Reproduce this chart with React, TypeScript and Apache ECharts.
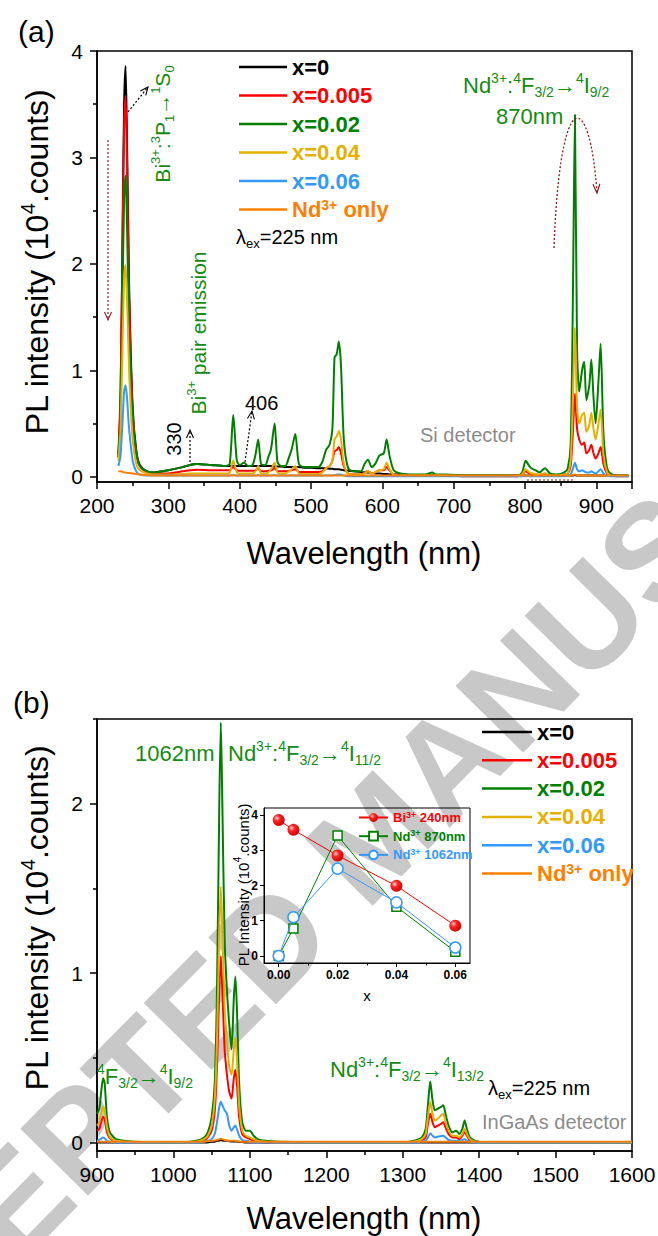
import React, { useEffect, useRef } from 'react';
import * as echarts from 'echarts';

const FONT = '"Liberation Sans", Arial, Helvetica, sans-serif';

const C_BLACK = '#000000';
const C_RED = '#ff0000';
const C_GREEN = '#008000';
const C_GOLD = '#e6b000';
const C_BLUE = '#3399ff';
const C_ORANGE = '#ff8000';
const C_TGREEN = '#148c14';
const C_BROWN = '#8b1c1c';
const C_GRAY = '#8c8c8c';
const C_WATER = '#c8c8c8';

const SERIES_NAMES = ['x=0', 'x=0.005', 'x=0.02', 'x=0.04', 'x=0.06', 'Nd3+ only'];
const SERIES_COLORS = [C_BLACK, C_RED, C_GREEN, C_GOLD, C_BLUE, C_ORANGE];

// ---------- Panel (a): Si detector, 230-945 nm ----------
const WL_A = [
  230, 233, 236, 238, 240, 242, 245, 250, 255, 260,
  270, 280, 300, 320, 330, 340, 360, 380, 386, 391,
  396, 400, 406, 412, 418, 422, 426, 430, 436, 440,
  444, 449, 453, 458, 464, 469, 473, 478, 483, 490,
  500, 510, 516, 521, 526, 530, 533, 536, 539, 542,
  546, 552, 560, 570, 575, 580, 585, 590, 596, 602,
  606, 610, 616, 625, 640, 660, 670, 675, 690, 720,
  760, 790, 796, 801, 806, 811, 815, 820, 828, 835,
  845, 855, 860, 864, 867, 870, 873, 876, 880, 883,
  886, 890, 893, 896, 899, 903, 906, 910, 915, 920,
  930, 945,
];
const A_X0 = [
  0.18, 0.70, 2.40, 3.50, 3.86, 3.20, 1.80, 0.65, 0.25, 0.11,
  0.05, 0.04, 0.06, 0.09, 0.11, 0.12, 0.11, 0.10, 0.10, 0.10,
  0.10, 0.10, 0.10, 0.10, 0.10, 0.10, 0.10, 0.10, 0.10, 0.10,
  0.10, 0.095, 0.095, 0.095, 0.09, 0.09, 0.09, 0.09, 0.09, 0.085,
  0.085, 0.08, 0.08, 0.08, 0.075, 0.075, 0.07, 0.07, 0.07, 0.065,
  0.06, 0.055, 0.05, 0.045, 0.04, 0.04, 0.035, 0.03, 0.03, 0.025,
  0.025, 0.02, 0.02, 0.02, 0.015, 0.015, 0.015, 0.015, 0.01, 0.01,
  0.01, 0.01, 0.01, 0.01, 0.01, 0.01, 0.01, 0.01, 0.01, 0.01,
  0.01, 0.01, 0.01, 0.01, 0.01, 0.015, 0.01, 0.01, 0.01, 0.01,
  0.01, 0.01, 0.01, 0.01, 0.01, 0.01, 0.01, 0.01, 0.01, 0.01,
  0.01, 0.01,
];
const A_X005 = [
  0.22, 0.80, 2.30, 3.30, 3.58, 3.00, 1.70, 0.60, 0.22, 0.10,
  0.04, 0.03, 0.03, 0.05, 0.06, 0.065, 0.06, 0.06, 0.06, 0.09,
  0.06, 0.055, 0.055, 0.055, 0.055, 0.06, 0.08, 0.05, 0.05, 0.055,
  0.06, 0.08, 0.05, 0.05, 0.05, 0.055, 0.06, 0.07, 0.045, 0.045,
  0.045, 0.045, 0.05, 0.08, 0.10, 0.15, 0.24, 0.25, 0.28, 0.22,
  0.10, 0.03, 0.02, 0.02, 0.04, 0.05, 0.03, 0.04, 0.06, 0.06,
  0.09, 0.06, 0.02, 0.01, 0.01, 0.01, 0.01, 0.01, 0.01, 0.005,
  0.005, 0.005, 0.02, 0.05, 0.03, 0.025, 0.02, 0.015, 0.03, 0.01,
  0.01, 0.02, 0.03, 0.10, 0.40, 0.78, 0.45, 0.35, 0.30, 0.32,
  0.22, 0.25, 0.30, 0.22, 0.17, 0.22, 0.28, 0.12, 0.03, 0.01,
  0.005, 0.005,
];
const A_X02 = [
  0.20, 0.60, 1.80, 2.60, 2.83, 2.40, 1.40, 0.55, 0.22, 0.10,
  0.05, 0.04, 0.06, 0.09, 0.11, 0.12, 0.11, 0.10, 0.12, 0.58,
  0.15, 0.11, 0.13, 0.10, 0.11, 0.20, 0.35, 0.12, 0.11, 0.18,
  0.26, 0.50, 0.14, 0.10, 0.10, 0.18, 0.26, 0.40, 0.12, 0.09,
  0.09, 0.09, 0.14, 0.25, 0.30, 0.45, 1.12, 1.15, 1.27, 1.05,
  0.35, 0.08, 0.05, 0.05, 0.12, 0.16, 0.09, 0.12, 0.20, 0.22,
  0.35, 0.20, 0.06, 0.03, 0.02, 0.02, 0.04, 0.02, 0.02, 0.01,
  0.01, 0.01, 0.04, 0.15, 0.10, 0.07, 0.06, 0.04, 0.08, 0.03,
  0.02, 0.04, 0.08, 0.30, 1.60, 3.40, 1.20, 0.80, 1.00, 1.08,
  0.72, 0.85, 1.10, 0.75, 0.50, 0.90, 1.25, 0.40, 0.08, 0.03,
  0.01, 0.01,
];
const A_X04 = [
  0.15, 0.45, 1.30, 1.85, 1.99, 1.70, 1.00, 0.35, 0.12, 0.06,
  0.03, 0.02, 0.02, 0.025, 0.03, 0.03, 0.03, 0.03, 0.04, 0.15,
  0.04, 0.03, 0.03, 0.03, 0.03, 0.05, 0.10, 0.03, 0.03, 0.04,
  0.07, 0.13, 0.04, 0.03, 0.03, 0.05, 0.07, 0.10, 0.03, 0.025,
  0.025, 0.025, 0.04, 0.08, 0.10, 0.15, 0.35, 0.38, 0.43, 0.35,
  0.12, 0.03, 0.02, 0.02, 0.03, 0.05, 0.03, 0.04, 0.06, 0.07,
  0.13, 0.07, 0.02, 0.01, 0.01, 0.01, 0.01, 0.01, 0.01, 0.005,
  0.005, 0.005, 0.02, 0.07, 0.04, 0.03, 0.025, 0.02, 0.03, 0.01,
  0.01, 0.02, 0.03, 0.15, 0.70, 1.40, 0.65, 0.50, 0.58, 0.60,
  0.42, 0.48, 0.60, 0.45, 0.35, 0.50, 0.63, 0.20, 0.04, 0.01,
  0.005, 0.005,
];
const A_X06 = [
  0.10, 0.20, 0.55, 0.80, 0.86, 0.75, 0.45, 0.15, 0.05, 0.02,
  0.01, 0.01, 0.01, 0.01, 0.01, 0.01, 0.01, 0.01, 0.01, 0.015,
  0.01, 0.01, 0.01, 0.01, 0.01, 0.01, 0.015, 0.01, 0.01, 0.01,
  0.01, 0.015, 0.01, 0.01, 0.01, 0.01, 0.01, 0.01, 0.01, 0.01,
  0.01, 0.01, 0.01, 0.01, 0.01, 0.01, 0.015, 0.02, 0.02, 0.02,
  0.01, 0.005, 0.005, 0.005, 0.005, 0.005, 0.005, 0.005, 0.005, 0.005,
  0.005, 0.005, 0.005, 0.005, 0.005, 0.005, 0.005, 0.005, 0.005, 0.005,
  0.005, 0.005, 0.005, 0.01, 0.005, 0.005, 0.005, 0.005, 0.005, 0.005,
  0.005, 0.005, 0.01, 0.02, 0.07, 0.13, 0.07, 0.05, 0.06, 0.05,
  0.04, 0.04, 0.05, 0.04, 0.03, 0.05, 0.07, 0.03, 0.01, 0.005,
  0.005, 0.005,
];
const A_ND = [
  0.05, 0.05, 0.045, 0.04, 0.04, 0.035, 0.035, 0.03, 0.025, 0.02,
  0.015, 0.01, 0.01, 0.01, 0.01, 0.01, 0.01, 0.01, 0.01, 0.01,
  0.01, 0.01, 0.01, 0.01, 0.01, 0.01, 0.01, 0.01, 0.01, 0.01,
  0.01, 0.01, 0.01, 0.01, 0.01, 0.01, 0.01, 0.01, 0.01, 0.01,
  0.01, 0.01, 0.01, 0.01, 0.01, 0.01, 0.01, 0.01, 0.01, 0.01,
  0.01, 0.01, 0.01, 0.01, 0.01, 0.01, 0.01, 0.01, 0.01, 0.01,
  0.01, 0.01, 0.01, 0.01, 0.01, 0.01, 0.01, 0.01, 0.01, 0.01,
  0.01, 0.01, 0.01, 0.01, 0.01, 0.01, 0.01, 0.01, 0.01, 0.01,
  0.01, 0.01, 0.01, 0.01, 0.015, 0.02, 0.015, 0.01, 0.01, 0.01,
  0.01, 0.01, 0.01, 0.01, 0.01, 0.01, 0.01, 0.01, 0.01, 0.01,
  0.01, 0.01,
];

// ---------- Panel (b): InGaAs detector, 900-1600 nm ----------
const WL_B = [
  900, 903, 906, 908, 910, 913, 916, 920, 925, 935,
  950, 980, 1010, 1030, 1040, 1045, 1050, 1054, 1057, 1060,
  1062, 1064, 1067, 1070, 1073, 1076, 1079, 1081, 1083, 1086,
  1090, 1095, 1100, 1105, 1110, 1120, 1140, 1200, 1260, 1300,
  1315, 1325, 1330, 1333, 1336, 1339, 1342, 1346, 1350, 1353,
  1356, 1360, 1365, 1370, 1374, 1378, 1381, 1384, 1388, 1395,
  1410, 1450, 1500, 1550, 1600,
];
const B_X0 = [
  0, 0, 0, 0, 0, 0, 0, 0, 0, 0,
  0, 0, 0, 0, 0, 0, 0.005, 0.005, 0.01, 0.012,
  0.015, 0.012, 0.01, 0.01, 0.008, 0.006, 0.006, 0.006, 0.005, 0.004,
  0.003, 0, 0, 0, 0, 0, 0, 0, 0, 0,
  0, 0, 0, 0, 0, 0, 0, 0, 0, 0,
  0, 0, 0, 0, 0, 0, 0, 0, 0, 0,
  0, 0, 0, 0, 0,
];
const B_X005 = [
  0.07, 0.08, 0.13, 0.15, 0.14, 0.06, 0.03, 0.015, 0.01, 0.005,
  0.0, 0.0, 0.0, 0.005, 0.015, 0.03, 0.07, 0.18, 0.45, 0.90,
  1.10, 0.90, 0.55, 0.40, 0.30, 0.26, 0.38, 0.43, 0.35, 0.15,
  0.05, 0.03, 0.02, 0.01, 0.005, 0.0, 0.0, 0.0, 0.0, 0.0,
  0.005, 0.015, 0.03, 0.11, 0.17, 0.12, 0.09, 0.10, 0.11, 0.12,
  0.09, 0.05, 0.03, 0.03, 0.02, 0.04, 0.06, 0.04, 0.01, 0.005,
  0.0, 0.0, 0.0, 0.0, 0.0,
];
const B_X02 = [
  0.17, 0.20, 0.32, 0.38, 0.35, 0.15, 0.07, 0.04, 0.02, 0.01,
  0.005, 0.0, 0.0, 0.01, 0.03, 0.06, 0.15, 0.35, 0.90, 2.00,
  2.48, 2.00, 1.20, 0.90, 0.70, 0.55, 0.85, 0.98, 0.80, 0.35,
  0.12, 0.07, 0.07, 0.04, 0.02, 0.01, 0.005, 0.0, 0.0, 0.0,
  0.01, 0.03, 0.08, 0.22, 0.36, 0.25, 0.19, 0.20, 0.21, 0.22,
  0.17, 0.10, 0.06, 0.07, 0.05, 0.08, 0.13, 0.08, 0.03, 0.01,
  0.0, 0.0, 0.0, 0.0, 0.0,
];
const B_X04 = [
  0.10, 0.12, 0.18, 0.21, 0.19, 0.09, 0.04, 0.02, 0.01, 0.005,
  0.0, 0.0, 0.0, 0.005, 0.02, 0.04, 0.10, 0.25, 0.60, 1.25,
  1.51, 1.25, 0.80, 0.60, 0.45, 0.40, 0.55, 0.62, 0.50, 0.22,
  0.07, 0.04, 0.03, 0.02, 0.01, 0.005, 0.0, 0.0, 0.0, 0.0,
  0.005, 0.02, 0.05, 0.15, 0.24, 0.17, 0.13, 0.14, 0.16, 0.17,
  0.12, 0.07, 0.04, 0.04, 0.03, 0.05, 0.08, 0.05, 0.02, 0.005,
  0.0, 0.0, 0.0, 0.0, 0.0,
];
const B_X06 = [
  0.01, 0.015, 0.025, 0.03, 0.025, 0.01, 0.005, 0.005, 0.0, 0.0,
  0.0, 0.0, 0.0, 0.0, 0.005, 0.01, 0.02, 0.05, 0.12, 0.21,
  0.24, 0.22, 0.19, 0.17, 0.10, 0.07, 0.09, 0.10, 0.08, 0.04,
  0.015, 0.01, 0.005, 0.0, 0.0, 0.0, 0.0, 0.0, 0.0, 0.0,
  0.0, 0.005, 0.01, 0.03, 0.055, 0.04, 0.03, 0.035, 0.038, 0.04,
  0.03, 0.015, 0.01, 0.01, 0.01, 0.015, 0.02, 0.01, 0.005, 0.0,
  0.0, 0.0, 0.0, 0.0, 0.0,
];
const B_ND = [
  0.005, 0.005, 0.005, 0.005, 0.005, 0.005, 0.005, 0.005, 0.005, 0.005,
  0.005, 0.005, 0.005, 0.005, 0.005, 0.008, 0.01, 0.012, 0.015, 0.02,
  0.022, 0.02, 0.015, 0.012, 0.01, 0.01, 0.01, 0.01, 0.008, 0.006,
  0.005, 0.005, 0.005, 0.005, 0.005, 0.005, 0.005, 0.005, 0.005, 0.005,
  0.005, 0.005, 0.005, 0.005, 0.005, 0.005, 0.005, 0.005, 0.005, 0.005,
  0.005, 0.005, 0.005, 0.005, 0.005, 0.005, 0.005, 0.005, 0.005, 0.005,
  0.005, 0.005, 0.005, 0.005, 0.005,
];

// ---------- Inset: intensity vs x ----------
const INSET_X = [0, 0.005, 0.02, 0.04, 0.06];
const BI_240 = [3.86, 3.58, 2.85, 1.99, 0.86];
const ND_870 = [0.0, 0.78, 3.42, 1.40, 0.12];
const ND_1062 = [0.0, 1.10, 2.48, 1.52, 0.24];
const INSET_NAMES = ['Bi3+ 240nm', 'Nd3+ 870nm', 'Nd3+ 1062nm'];

// ---------- Tick values ----------
const A_Y_TICKS = [0, 1, 2, 3, 4];
const A_Y_MINOR = [0.5, 1.5, 2.5, 3.5];
const B_Y_TICKS = [0, 1, 2];
const B_Y_MINOR = [0.5, 1.5, 2.5];
const IN_X_TICKS = [0, 0.02, 0.04, 0.06];
const IN_X_MINOR = [0.01, 0.03, 0.05];
const IN_Y_TICKS = [0, 1, 2, 3, 4];

// ---------- helpers ----------
const richFor = (color: string, fs: number, weight = 'normal', lh?: number) => {
  const s = Math.round(fs * 0.64);
  return {
    m: { fontSize: fs, lineHeight: lh || fs + 6, fill: color, color, fontFamily: FONT, fontWeight: weight },
    sp: { fontSize: s, lineHeight: s, verticalAlign: 'top', fill: color, color, fontFamily: FONT, fontWeight: weight },
    sb: { fontSize: s, lineHeight: s, verticalAlign: 'bottom', fill: color, color, fontFamily: FONT, fontWeight: weight },
  };
};

const label = (
  x: number, y: number, text: string, color: string, fs: number,
  opts: { align?: string; rot?: number; weight?: string; lh?: number } = {}
) => ({
  type: 'text',
  x, y, z: 50,
  rotation: opts.rot || 0,
  style: {
    text,
    rich: richFor(color, fs, opts.weight, opts.lh),
    fill: color,
    fontSize: fs,
    fontFamily: FONT,
    align: opts.align || 'left',
    textAlign: opts.align || 'left',
    verticalAlign: 'middle',
    textVerticalAlign: 'middle',
  },
});

const arrow = (x1: number, y1: number, x2: number, y2: number, color: string) => {
  const dx = x2 - x1, dy = y2 - y1;
  const L = Math.sqrt(dx * dx + dy * dy);
  const ux = dx / L, uy = dy / L;
  const bx = x2 - ux * 8, by = y2 - uy * 8;
  const px = -uy * 3.5, py = ux * 3.5;
  return [
    { type: 'line', z: 40, shape: { x1, y1, x2, y2 }, style: { stroke: color, lineWidth: 1.2, lineDash: [2, 2] } },
    { type: 'polyline', z: 40, shape: { points: [[bx + px, by + py], [x2, y2], [bx - px, by - py]] }, style: { stroke: color, lineWidth: 1.1, fill: null } },
  ];
};

const curvedArrow = (x1: number, y1: number, c1x: number, c1y: number, c2x: number, c2y: number, x2: number, y2: number, color: string) => {
  const dx = x2 - c2x, dy = y2 - c2y;
  const L = Math.sqrt(dx * dx + dy * dy);
  const ux = dx / L, uy = dy / L;
  const bx = x2 - ux * 9, by = y2 - uy * 9;
  const px = -uy * 3.5, py = ux * 3.5;
  return [
    { type: 'bezierCurve', z: 40, shape: { x1, y1, x2, y2, cpx1: c1x, cpy1: c1y, cpx2: c2x, cpy2: c2y }, style: { stroke: color, lineWidth: 1.3, lineDash: [2, 2], fill: null } },
    { type: 'polyline', z: 40, shape: { points: [[bx + px, by + py], [x2, y2], [bx - px, by - py]] }, style: { stroke: color, lineWidth: 1.2, fill: null } },
  ];
};

const legendFmt: Record<string, string> = {
  'x=0': '{k|x=0}',
  'x=0.005': '{r|x=0.005}',
  'x=0.02': '{g|x=0.02}',
  'x=0.04': '{y|x=0.04}',
  'x=0.06': '{b|x=0.06}',
  'Nd3+ only': '{o|Nd}{os|3+}{o| only}',
  'Bi3+ 240nm': '{r|Bi}{rs|3+}{r| 240nm}',
  'Nd3+ 870nm': '{g|Nd}{gs|3+}{g| 870nm}',
  'Nd3+ 1062nm': '{b|Nd}{bs|3+}{b| 1062nm}',
};

const mainLegendRich = () => {
  const base = (c: string) => ({ color: c, fontSize: 22, lineHeight: 24, fontWeight: 'bold', fontFamily: FONT });
  return {
    k: base(C_BLACK), r: base(C_RED), g: base(C_GREEN), y: base(C_GOLD), b: base(C_BLUE), o: base(C_ORANGE),
    os: { color: C_ORANGE, fontSize: 14, lineHeight: 14, verticalAlign: 'top', fontWeight: 'bold', fontFamily: FONT },
  };
};
const insetLegendRich = () => {
  const base = (c: string) => ({ color: c, fontSize: 13, lineHeight: 15, fontWeight: 'bold', fontFamily: FONT });
  const sup = (c: string) => ({ color: c, fontSize: 9, lineHeight: 9, verticalAlign: 'top', fontWeight: 'bold', fontFamily: FONT });
  return { r: base(C_RED), g: base(C_GREEN), b: base(C_BLUE), rs: sup(C_RED), gs: sup(C_GREEN), bs: sup(C_BLUE) };
};

const axisCommon = {
  type: 'value',
  axisLine: { show: true, onZero: false, lineStyle: { color: '#000', width: 1.5 } },
  splitLine: { show: false },
  minorSplitLine: { show: false },
};

function buildOption() {
  const specA = [A_X0, A_X005, A_X02, A_X04, A_X06, A_ND];
  const specB = [B_X0, B_X005, B_X02, B_X04, B_X06, B_ND];
  const series: any[] = [];
  specA.forEach((vals, i) => {
    series.push({
      type: 'line', name: SERIES_NAMES[i], xAxisIndex: 0, yAxisIndex: 0,
      data: WL_A.map((w, j) => [w, vals[j]]),
      showSymbol: false, symbol: 'none', smooth: 0.25,
      color: SERIES_COLORS[i], lineStyle: { width: 2, color: SERIES_COLORS[i] }, z: 2 + i,
    });
  });
  specB.forEach((vals, i) => {
    series.push({
      type: 'line', name: SERIES_NAMES[i], xAxisIndex: 1, yAxisIndex: 2,
      data: WL_B.map((w, j) => [w, vals[j]]),
      showSymbol: false, symbol: 'none', smooth: 0.25,
      color: SERIES_COLORS[i], lineStyle: { width: 2, color: SERIES_COLORS[i] }, z: 2 + i,
    });
  });
  series.push({
    type: 'line', name: INSET_NAMES[0], xAxisIndex: 2, yAxisIndex: 4,
    data: INSET_X.map((x, j) => [x, BI_240[j]]),
    symbol: 'circle', symbolSize: 12, color: C_RED,
    lineStyle: { width: 1, color: C_RED },
    itemStyle: {
      color: {
        type: 'radial', x: 0.35, y: 0.35, r: 0.75,
        colorStops: [{ offset: 0, color: '#ffd0d0' }, { offset: 0.35, color: '#ff2020' }, { offset: 1, color: '#c00000' }],
      },
    },
    z: 10,
  });
  series.push({
    type: 'line', name: INSET_NAMES[1], xAxisIndex: 2, yAxisIndex: 4,
    data: INSET_X.map((x, j) => [x, ND_870[j]]),
    symbol: 'rect', symbolSize: 9, color: C_GREEN,
    lineStyle: { width: 1, color: C_GREEN },
    itemStyle: { color: '#ffffff', borderColor: C_GREEN, borderWidth: 1.5 },
    z: 11,
  });
  series.push({
    type: 'line', name: INSET_NAMES[2], xAxisIndex: 2, yAxisIndex: 4,
    data: INSET_X.map((x, j) => [x, ND_1062[j]]),
    symbol: 'circle', symbolSize: 11, color: C_BLUE,
    lineStyle: { width: 1, color: C_BLUE },
    itemStyle: { color: '#ffffff', borderColor: C_BLUE, borderWidth: 1.5 },
    z: 12,
  });

  const mainLabel = { fontSize: 21, color: '#000', fontFamily: FONT, formatter: (v: number) => String(v) };
  const tickStyle = { color: '#000', width: 1.5 };

  const graphics: any[] = [
    {
      type: 'text', x: 375, y: 835, z: -10, rotation: (45.5 * Math.PI) / 180,
      style: {
        text: 'ACCEPTED MANUSCRIPT', fill: C_WATER, fontSize: 138, fontWeight: 'bold', fontFamily: FONT,
        align: 'center', textAlign: 'center', verticalAlign: 'middle', textVerticalAlign: 'middle',
      },
    },
    label(18, 31, '{m|(a)}', C_BLACK, 30, { lh: 32 }),
    label(13, 702, '{m|(b)}', C_BLACK, 30, { lh: 32 }),
    label(37, 262, '{m|PL intensity (10}{sp|4}{m|.counts)}', C_BLACK, 32, { align: 'center', rot: Math.PI / 2 }),
    label(37, 918, '{m|PL intensity (10}{sp|4}{m|.counts)}', C_BLACK, 32, { align: 'center', rot: Math.PI / 2 }),
    label(364, 553, '{m|Wavelength (nm)}', C_BLACK, 31, { align: 'center', lh: 31 }),
    label(364, 1218, '{m|Wavelength (nm)}', C_BLACK, 31, { align: 'center', lh: 30 }),
    label(236, 237, '{m|λ}{sb|ex}{m|=225 nm}', C_BLACK, 20),
    label(488, 1088, '{m|λ}{sb|ex}{m|=225 nm}', C_BLACK, 20),
    label(162, 124, '{m|Bi}{sp|3+}{m|:}{sp|3}{m|P}{sb|1}{m|→}{sp|1}{m|S}{sb|0}', C_TGREEN, 21, { align: 'center', rot: Math.PI / 2 }),
    label(198, 333, '{m|Bi}{sp|3+}{m| pair emission}', C_TGREEN, 21, { align: 'center', rot: Math.PI / 2 }),
    label(174, 439, '{m|330}', C_BLACK, 20, { align: 'center', rot: Math.PI / 2 }),
    label(245, 403, '{m|406}', C_BLACK, 20),
    label(463, 85, '{m|Nd}{sp|3+}{m|:}{sp|4}{m|F}{sb|3/2}{m|→}{sp|4}{m|I}{sb|9/2}', C_TGREEN, 22),
    label(496, 116, '{m|870nm}', C_TGREEN, 22),
    label(420, 435, '{m|Si detector}', C_GRAY, 20),
    label(135, 753, '{m|1062nm}', C_TGREEN, 22),
    label(228, 753, '{m|Nd}{sp|3+}{m|:}{sp|4}{m|F}{sb|3/2}{m|→}{sp|4}{m|I}{sb|11/2}', C_TGREEN, 22),
    label(97, 1076, '{sp|4}{m|F}{sb|3/2}{m|→}{sp|4}{m|I}{sb|9/2}', C_TGREEN, 22),
    label(330, 1069, '{m|Nd}{sp|3+}{m|:}{sp|4}{m|F}{sb|3/2}{m|→}{sp|4}{m|I}{sb|13/2}', C_TGREEN, 22),
    label(482, 1122, '{m|InGaAs detector}', C_GRAY, 20),
    label(243, 885, '{m|PL Intensity (10}{sp|4}{m|.counts)}', C_BLACK, 15, { align: 'center', rot: Math.PI / 2 }),
    label(367, 995, '{m|x}', C_BLACK, 15, { align: 'center' }),
    ...arrow(128, 112, 148, 87, C_BLACK),
    ...arrow(108, 140, 108, 320, C_BROWN),
    ...arrow(190, 462, 190, 430, C_BLACK),
    ...arrow(245, 462, 252, 411, C_BLACK),
    ...curvedArrow(554, 248, 560, 80, 590, 90, 597, 193, C_BROWN),
    { type: 'line', z: 40, shape: { x1: 527, y1: 480, x2: 575, y2: 480 }, style: { stroke: C_BROWN, lineWidth: 1.2, lineDash: [2, 2] } },
  ];

  return {
    animation: false,
    backgroundColor: '#ffffff',
    textStyle: { fontFamily: FONT },
    grid: [
      { left: 97, top: 51, width: 535, height: 431, show: true, borderColor: '#000', borderWidth: 1.5, containLabel: false, outerBoundsMode: 'none' },
      { left: 97, top: 719, width: 535, height: 432, show: true, borderColor: '#000', borderWidth: 1.5, containLabel: false, outerBoundsMode: 'none' },
      { left: 264, top: 808, width: 206, height: 155, show: true, borderColor: '#000', borderWidth: 1, containLabel: false, outerBoundsMode: 'none' },
    ],
    xAxis: [
      {
        ...axisCommon, gridIndex: 0, position: 'bottom', min: 200, max: 950, interval: 100,
        axisTick: { show: true, length: 7, lineStyle: tickStyle },
        minorTick: { show: true, splitNumber: 2, length: 4, lineStyle: tickStyle },
        axisLabel: { ...mainLabel, margin: 13, showMaxLabel: false },
      },
      {
        ...axisCommon, gridIndex: 1, position: 'bottom', min: 900, max: 1600, interval: 100,
        axisTick: { show: true, length: 7, lineStyle: tickStyle },
        minorTick: { show: true, splitNumber: 2, length: 4, lineStyle: tickStyle },
        axisLabel: { ...mainLabel, margin: 13 },
      },
      {
        ...axisCommon, gridIndex: 2, position: 'bottom', min: -0.005, max: 0.065,
        axisLine: { show: true, onZero: false, lineStyle: { color: '#000', width: 1 } },
        axisTick: { show: true, length: 4, customValues: IN_X_TICKS, lineStyle: { color: '#000', width: 1 } },
        axisLabel: { customValues: IN_X_TICKS, formatter: (v: number) => v.toFixed(2), fontSize: 12, fontWeight: 'bold', color: '#000', margin: 6, fontFamily: FONT },
      },
      {
        ...axisCommon, gridIndex: 2, position: 'bottom', min: -0.005, max: 0.065,
        axisLine: { show: false, onZero: false },
        axisTick: { show: true, length: 2.5, customValues: IN_X_MINOR, lineStyle: { color: '#000', width: 1 } },
        axisLabel: { show: false },
      },
    ],
    yAxis: [
      {
        ...axisCommon, gridIndex: 0, position: 'left', min: -0.05, max: 4,
        axisTick: { show: true, length: 7, customValues: A_Y_TICKS, lineStyle: tickStyle },
        axisLabel: { ...mainLabel, customValues: A_Y_TICKS, margin: 14 },
      },
      {
        ...axisCommon, gridIndex: 0, position: 'left', min: -0.05, max: 4,
        axisLine: { show: false, onZero: false },
        axisTick: { show: true, length: 4, customValues: A_Y_MINOR, lineStyle: tickStyle },
        axisLabel: { show: false },
      },
      {
        ...axisCommon, gridIndex: 1, position: 'left', min: -0.05, max: 2.5,
        axisTick: { show: true, length: 7, customValues: B_Y_TICKS, lineStyle: tickStyle },
        axisLabel: { ...mainLabel, customValues: B_Y_TICKS, margin: 14 },
      },
      {
        ...axisCommon, gridIndex: 1, position: 'left', min: -0.05, max: 2.5,
        axisLine: { show: false, onZero: false },
        axisTick: { show: true, length: 4, customValues: B_Y_MINOR, lineStyle: tickStyle },
        axisLabel: { show: false },
      },
      {
        ...axisCommon, gridIndex: 2, position: 'left', min: -0.2, max: 4.2,
        axisLine: { show: true, onZero: false, lineStyle: { color: '#000', width: 1 } },
        axisTick: { show: true, length: 4, customValues: IN_Y_TICKS, lineStyle: { color: '#000', width: 1 } },
        axisLabel: { customValues: IN_Y_TICKS, fontSize: 12, fontWeight: 'bold', color: '#000', margin: 6, fontFamily: FONT },
      },
    ],
    legend: [
      {
        data: SERIES_NAMES, orient: 'vertical', left: 234, top: 50, itemWidth: 48, itemHeight: 2.5, itemGap: 4.5,
        icon: 'rect', selectedMode: false, formatter: (n: string) => legendFmt[n] || n,
        textStyle: { fontSize: 22, fontWeight: 'bold', lineHeight: 24, fontFamily: FONT, rich: mainLegendRich() },
      },
      {
        data: SERIES_NAMES, orient: 'vertical', left: 477, top: 715, itemWidth: 50, itemHeight: 2.5, itemGap: 4.3,
        icon: 'rect', selectedMode: false, formatter: (n: string) => legendFmt[n] || n,
        textStyle: { fontSize: 22, fontWeight: 'bold', lineHeight: 24, fontFamily: FONT, rich: mainLegendRich() },
      },
      {
        data: INSET_NAMES, orient: 'vertical', left: 353, top: 805, itemWidth: 29, itemHeight: 11, itemGap: 3.7,
        selectedMode: false, formatter: (n: string) => legendFmt[n] || n,
        textStyle: { fontSize: 13, fontWeight: 'bold', lineHeight: 15, fontFamily: FONT, rich: insetLegendRich() },
      },
    ],
    graphic: { elements: graphics },
    series,
  };
}

export default function App() {
  const ref = useRef<HTMLDivElement>(null);
  useEffect(() => {
    document.body.style.margin = '0';
    if (!ref.current) return;
    const chart = echarts.init(ref.current, undefined, { renderer: 'svg' });
    chart.setOption(buildOption() as any);
    return () => chart.dispose();
  }, []);
  return <div ref={ref} style={{ width: 658, height: 1236, background: '#fff' }} />;
}
